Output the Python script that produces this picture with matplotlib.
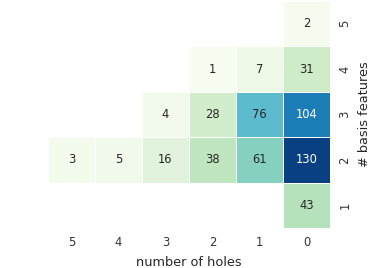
import numpy as np
import matplotlib
matplotlib.use("Agg")
import matplotlib.pyplot as plt
import seaborn as sns

# columns: number of holes, rows: number of basis features
holes = [5, 4, 3, 2, 1, 0]
features = [5, 4, 3, 2, 1]

row_5 = [np.nan, np.nan, np.nan, np.nan, np.nan, 2]
row_4 = [np.nan, np.nan, np.nan, 1, 7, 31]
row_3 = [np.nan, np.nan, 4, 28, 76, 104]
row_2 = [3, 5, 16, 38, 61, 130]
row_1 = [np.nan, np.nan, np.nan, np.nan, np.nan, 43]

data = np.array([row_5, row_4, row_3, row_2, row_1])

sns.set_style("white")
plt.rcParams['font.family'] = ['DejaVu Sans']

fig = plt.figure(figsize=(3.71, 2.68), dpi=100)
ax = fig.add_axes([48/371, 1 - 228/268, 282/371, 227/268])

sns.heatmap(data, ax=ax, cmap="GnBu", vmin=0, vmax=130, annot=True, fmt=".0f",
            annot_kws={"fontsize": 8.3}, linewidths=0.5, linecolor="white",
            cbar=False, xticklabels=holes, yticklabels=features)

ax.yaxis.tick_right()
ax.yaxis.set_label_position("right")
ax.tick_params(axis="both", length=0, labelsize=8.3, colors="#333333", pad=6)
plt.setp(ax.get_yticklabels(), rotation=90, va="center")
plt.setp(ax.get_xticklabels(), rotation=0)
ax.set_xlabel("number of holes", fontsize=9.3, color="#262626", labelpad=4.5)
ax.set_ylabel("# basis features", fontsize=9.3, color="#262626", labelpad=5)

fig.savefig("out.png", dpi=100)
